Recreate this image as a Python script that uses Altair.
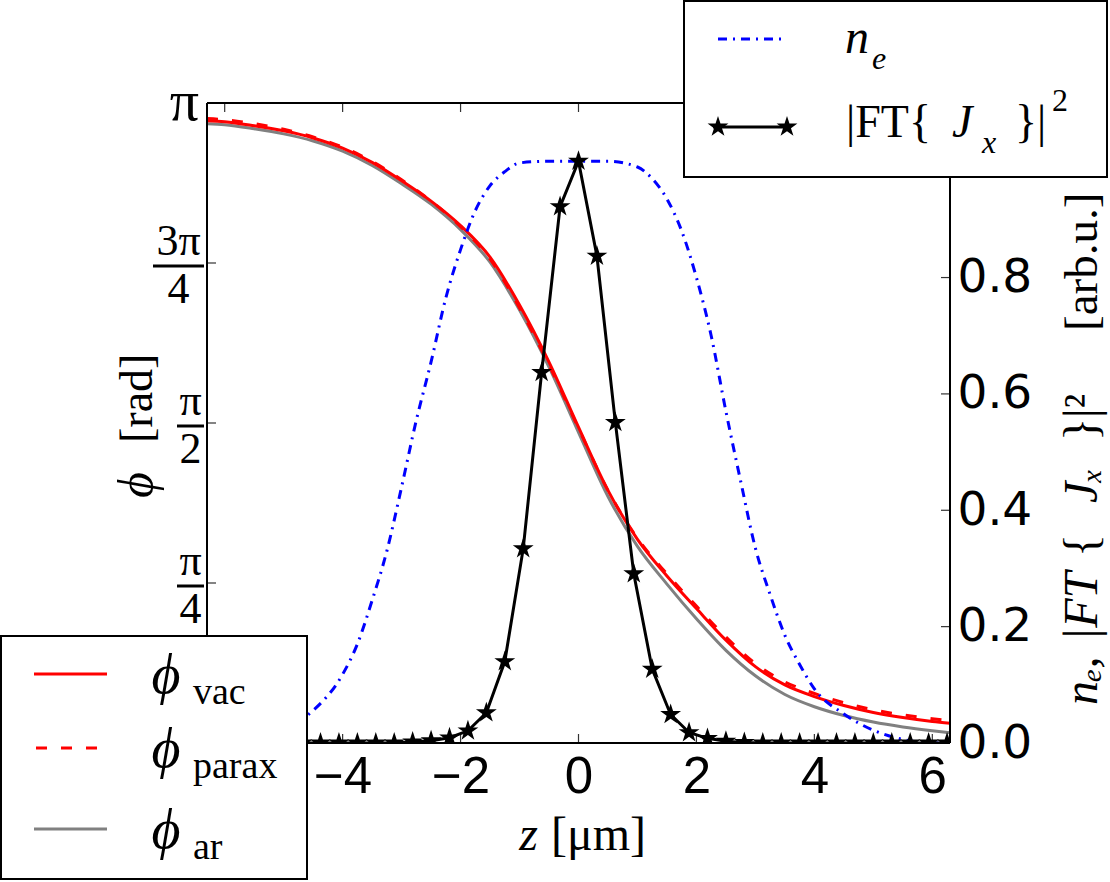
import math
import altair as alt
import pandas as pd

# ---------------- data ----------------
z_phi = [-6.3, -6.0, -5.5, -5.0, -4.5, -4.0, -3.5, -3.0, -2.5, -2.0, -1.5, -1.0, -0.5,
         0.0, 0.5, 1.0, 1.5, 2.0, 2.5, 3.0, 3.5, 4.0, 4.5, 5.0, 5.5, 6.0, 6.3]
phi_vac = [3.055, 3.05, 3.03, 3.005, 2.97, 2.92, 2.85, 2.76, 2.66, 2.54, 2.385, 2.15, 1.87,
           1.55, 1.24, 1.00, 0.82, 0.66, 0.505, 0.375, 0.285, 0.228, 0.184, 0.150, 0.125, 0.106, 0.097]
phi_parax = [3.065, 3.06, 3.04, 3.013, 2.975, 2.925, 2.855, 2.765, 2.66, 2.535, 2.375, 2.135, 1.855,
             1.545, 1.24, 1.005, 0.83, 0.672, 0.52, 0.39, 0.30, 0.243, 0.198, 0.163, 0.138, 0.119, 0.11]
phi_ar = [3.04, 3.035, 3.015, 2.99, 2.955, 2.905, 2.835, 2.745, 2.645, 2.52, 2.36, 2.125, 1.845,
          1.525, 1.21, 0.965, 0.78, 0.61, 0.455, 0.33, 0.238, 0.178, 0.135, 0.103, 0.079, 0.060, 0.050]

z_ne = [-6.3, -6.0, -5.5, -5.0, -4.5, -4.0, -3.75, -3.5, -3.25, -3.0, -2.75, -2.5, -2.25, -2.0,
        -1.75, -1.5, -1.25, -1.0, -0.5, 0.0, 0.5, 1.0, 1.25, 1.5, 1.75, 2.0, 2.25, 2.5, 2.75,
        3.0, 3.25, 3.5, 3.75, 4.0, 4.5, 5.0, 5.5, 6.0, 6.3]
n_e = [0.0, 0.001, 0.008, 0.025, 0.056, 0.118, 0.17, 0.245, 0.33, 0.44, 0.555, 0.655, 0.765, 0.848,
       0.915, 0.958, 0.982, 0.997, 1.0, 1.0, 1.0, 0.99, 0.97, 0.935, 0.88, 0.80, 0.70, 0.57, 0.45,
       0.335, 0.255, 0.185, 0.135, 0.093, 0.05, 0.022, 0.006, 0.0, 0.0]

z_ft = [-6.25, -5.9375, -5.625, -5.3125, -5.0, -4.6875, -4.375, -4.0625, -3.75, -3.4375,
        -3.125, -2.8125, -2.5, -2.1875, -1.875, -1.5625, -1.25, -0.9375, -0.625, -0.3125,
        0.0, 0.3125, 0.625, 0.9375, 1.25, 1.5625, 1.875, 2.1875, 2.5, 2.8125,
        3.125, 3.4375, 3.75, 4.0625, 4.375, 4.6875, 5.0, 5.3125, 5.625, 5.9375, 6.25]
ft_jx = [0, 0, 0, 0, 0, 0, 0, 0, 0, 0,
         0, 0.002, 0.004, 0.009, 0.021, 0.052, 0.140, 0.334, 0.637, 0.922,
         1.0, 0.837, 0.551, 0.291, 0.127, 0.049, 0.018, 0.008, 0.003, 0.001,
         0, 0, 0, 0, 0, 0, 0, 0, 0, 0, 0]

x_tick_values = [-6, -4, -2, 0, 2, 4, 6]
x_label_values = [-4, -2, 0, 2, 4, 6]
phi_tick_values = [math.pi / 4, math.pi / 2, 3 * math.pi / 4]
phi_numerators = ["π", "π", "3π"]
phi_denominators = ["4", "2", "4"]
n_tick_values = [0.2, 0.4, 0.6, 0.8, 1.0]
n_label_values = [0.0, 0.2, 0.4, 0.6, 0.8]

# ---------------- styling ----------------
W, H = 743, 640
SERIF = "Liberation Serif"
GREEK = "Liberation Serif"
SANS = "Liberation Sans"
TICK = "#333333"
STAR = ("M0,-1L0.2245,-0.309L0.9511,-0.309L0.3633,0.118L0.5878,0.809L0,0.382"
        "L-0.5878,0.809L-0.3633,0.118L-0.9511,-0.309L-0.2245,-0.309Z")
STAR_SIZE = 480

xscale = alt.Scale(domain=[-6.3, 6.3], nice=False, zero=False)
phiscale = alt.Scale(domain=[0, math.pi], nice=False, zero=False)
nscale = alt.Scale(domain=[0, 1.1], nice=False, zero=False)

x_axis = alt.Axis(values=x_label_values, ticks=False, tickSize=0, domain=False, grid=False,
                  labelFont=SANS, labelFontSize=51, labelColor="black", labelPadding=9,
                  labelFlush=False, title=None)
n_axis = alt.Axis(orient="right", values=n_label_values, format=".1f", ticks=False, tickSize=0,
                  domain=False, grid=False, labelFont="DejaVu Sans", labelFontSize=47, labelColor="black",
                  labelPadding=7, labelFlush=False, title=None)


def X(field):
    return alt.X(f"{field}:Q", scale=xscale, axis=x_axis)


def YPHI(field):
    return alt.Y(f"{field}:Q", scale=phiscale, axis=None)


def YN(field):
    return alt.Y(f"{field}:Q", scale=nscale, axis=n_axis)


one = pd.DataFrame({"a": [0]})


def text(t, x, y, size, font=SERIF, italic=False, align="left", angle=0, baseline="alphabetic"):
    kw = dict(text=t, font=font, fontSize=size, align=align, baseline=baseline, color="black")
    if italic:
        kw["fontStyle"] = "italic"
    if angle:
        kw["angle"] = angle
    return alt.Chart(one).mark_text(**kw).encode(x=alt.value(x), y=alt.value(y))


def hline(x1, x2, y, color="black", width=2, dash=None):
    kw = dict(color=color, strokeWidth=width)
    if dash:
        kw["strokeDash"] = dash
    return alt.Chart(one).mark_rule(**kw).encode(
        x=alt.value(x1), x2=alt.value(x2), y=alt.value(y), y2=alt.value(y))


def vline(x, y1, y2, color="black", width=2):
    return alt.Chart(one).mark_rule(color=color, strokeWidth=width).encode(
        x=alt.value(x), x2=alt.value(x), y=alt.value(y1), y2=alt.value(y2))


def star(x, y):
    return alt.Chart(one).mark_point(shape=STAR, filled=True, size=STAR_SIZE, color="black",
                                     opacity=1).encode(x=alt.value(x), y=alt.value(y))


def box(x1, x2, y1, y2):
    return alt.Chart(one).mark_rect(fill="white", stroke="black", strokeWidth=2).encode(
        x=alt.value(x1), x2=alt.value(x2), y=alt.value(y1), y2=alt.value(y2))


# ---------------- phase curves (left axis) ----------------
phi_df = pd.DataFrame({"z": z_phi, "vac": phi_vac, "parax": phi_parax, "ar": phi_ar})


def phi_line(col, color, dash=None):
    kw = dict(color=color, strokeWidth=3, interpolate="monotone", clip=True)
    if dash:
        kw["strokeDash"] = dash
    return alt.Chart(phi_df).mark_line(**kw).encode(x=X("z"), y=YPHI(col))


ar_line = phi_line("ar", "#808080")
parax_line = phi_line("parax", "#ff0000", dash=[11, 14])
vac_line = phi_line("vac", "#ff0000")

# fraction labels of the phase axis: numerator, bar, denominator
frac_df = pd.DataFrame({"v": phi_tick_values, "num": phi_numerators, "den": phi_denominators})


def fraction(test, cx, bar_len):
    base = alt.Chart(frac_df).transform_filter(test)
    num = base.mark_text(font=SERIF, fontSize=44, align="center", baseline="alphabetic",
                         dy=-8, color="black").encode(x=alt.value(cx), y=YPHI("v"), text="num:N")
    den = base.mark_text(font=SERIF, fontSize=44, align="center", baseline="alphabetic",
                         dy=40, color="black").encode(x=alt.value(cx), y=YPHI("v"), text="den:N")
    bar = base.mark_rect(color="black", opacity=1, yOffset=1.5, y2Offset=4.5).encode(
        x=alt.value(cx - bar_len / 2), x2=alt.value(cx + bar_len / 2),
        y=YPHI("v"), y2=alt.Y2("v:Q"))
    return [num, den, bar]


frac_wide = fraction("length(datum.num) > 1", -28.5, 51)
frac_narrow = fraction("length(datum.num) == 1", -16.5, 27)

pi_top = alt.Chart(pd.DataFrame({"v": [math.pi], "t": ["π"]})).mark_text(
    font=SERIF, fontSize=58, align="right", baseline="alphabetic", dy=17, color="black").encode(
    x=alt.value(-8), y=YPHI("v"), text="t:N")
phi_ticks = alt.Chart(frac_df).mark_rect(color=TICK, opacity=1, yOffset=-0.6, y2Offset=0.6).encode(
    x=alt.value(0), x2=alt.value(9), y=YPHI("v"), y2=alt.Y2("v:Q"))

xt_df = pd.DataFrame({"t": x_tick_values})
x_ticks_bottom = alt.Chart(xt_df).mark_rule(color=TICK, strokeWidth=1.2).encode(
    x=X("t"), x2=alt.X2("t:Q"), y=alt.value(H), y2=alt.value(H - 9))
x_ticks_top = alt.Chart(xt_df).mark_rule(color=TICK, strokeWidth=1.2).encode(
    x=X("t"), x2=alt.X2("t:Q"), y=alt.value(0), y2=alt.value(9))

phi_group = alt.layer(ar_line, parax_line, vac_line, phi_ticks, x_ticks_bottom, x_ticks_top,
                      *frac_wide, *frac_narrow, pi_top)

# ---------------- density and current spectrum (right axis) ----------------
ne_df = pd.DataFrame({"z": z_ne, "n": n_e})
ft_df = pd.DataFrame({"z": z_ft, "ft": ft_jx})

ne_line = alt.Chart(ne_df).mark_line(color="#0000ff", strokeWidth=3, strokeDash=[9, 6, 2, 6],
                                     interpolate="monotone", clip=True).encode(x=X("z"), y=YN("n"))
ft_line = alt.Chart(ft_df).mark_line(color="black", strokeWidth=3, clip=True).encode(
    x=X("z"), y=YN("ft"))
ft_pts = alt.Chart(ft_df).mark_point(shape=STAR, filled=True, size=STAR_SIZE, color="black",
                                     opacity=1, clip=True).encode(x=X("z"), y=YN("ft"))
n_ticks = alt.Chart(pd.DataFrame({"t": n_tick_values})).mark_rule(color=TICK, strokeWidth=1.2).encode(
    x=alt.value(W), x2=alt.value(W - 9), y=YN("t"), y2=alt.Y2("t:Q"))

# ---------------- frame, titles, legends ----------------
frame = [hline(0, W, 0), hline(0, W, H), vline(0, 0, H), vline(W, 0, H)]

RX = 876  # centre line of the rotated right-hand title
titles = [
    text("z", 331, 747, 48, italic=True, align="right"),
    text("[μm]", 344, 747, 48),
    text("ϕ", -69, 395, 50, font=GREEK, italic=True, angle=270, baseline="middle"),
    text("[rad]", -69, 340, 46, angle=270, baseline="middle"),
    text("nₑ,", RX, 602, 48, italic=True, angle=270, baseline="middle"),
    text("|FT", RX, 538, 48, italic=True, angle=270, baseline="middle"),
    text("{", RX, 454, 48, angle=270, baseline="middle"),
    text("Jₓ", RX, 400, 48, italic=True, angle=270, baseline="middle"),
    text("}|²", RX, 338, 48, angle=270, baseline="middle"),
    text("[arb.u.]", RX, 228, 47, angle=270, baseline="middle"),
]

legend_top = [
    box(477, 900, -102, 74),
    hline(511, 576, -64, color="#0000ff", width=3, dash=[9, 6, 2, 6]),
    text("n", 638, -50, 48, italic=True),
    text("e", 665, -34, 32, italic=True),
    hline(506, 581, 24, width=3),
    star(511, 24),
    star(580, 24),
    text("|FT{", 639, 34, 46),
    text("J", 745, 34, 46, italic=True),
    text("x", 775, 50, 32, italic=True),
    text("}|", 808, 34, 46),
    text("2", 845, 8, 32),
]

legend_bottom = [box(-206, 100, 533, 776)]
for y0, color, dash, sub in [(571, "#ff0000", None, "vac"),
                             (645, "#ff0000", [11, 14], "parax"),
                             (726, "#808080", None, "ar")]:
    if dash:
        legend_bottom.append(hline(-171, -109, y0, color=color, width=3, dash=dash))
    else:
        legend_bottom.append(hline(-173, -100, y0, color=color, width=3))
    legend_bottom.append(text("ϕ", -41, y0 + 19, 56, font=GREEK, italic=True, align="center"))
    legend_bottom.append(text(sub, -14, y0 + 30, 38))

n_group = alt.layer(ne_line, ft_line, ft_pts, n_ticks, *frame, *titles, *legend_top, *legend_bottom)

chart = alt.layer(phi_group, n_group).resolve_scale(y="independent").properties(
    width=W, height=H,
    autosize=alt.AutoSizeParams(type="none"),
    padding={"left": 207, "top": 103, "right": 160, "bottom": 139},
).configure_view(stroke="transparent").configure_axis(grid=False)

chart.save("out.html", embed_options={"renderer": "svg", "actions": False})
